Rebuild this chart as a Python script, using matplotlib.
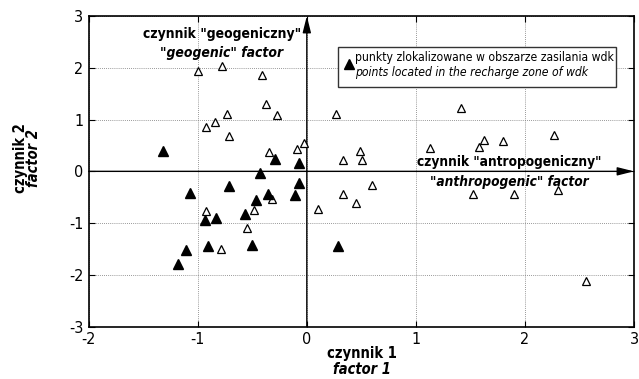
import matplotlib
matplotlib.use("Agg")
import matplotlib.pyplot as plt
from matplotlib.patches import Rectangle
from matplotlib.lines import Line2D

plt.rcParams['font.family'] = ['DejaVu Sans']
plt.rcParams['font.stretch'] = 'condensed'

# factor scores: points in the recharge zone (filled)
rech_x = [-1.32, -0.29, -0.07, -0.43, -0.07, -0.71, -1.07, -0.36, -0.11, -0.47,
          -0.57, -0.83, -0.93, -0.91, -0.50, -1.11, -1.18, 0.29]
rech_y = [0.40, 0.24, 0.17, -0.03, -0.22, -0.28, -0.41, -0.44, -0.45, -0.55,
          -0.82, -0.90, -0.94, -1.45, -1.42, -1.52, -1.78, -1.44]
# other points (open)
oth_x = [-1.00, -0.78, -0.41, -0.37, -0.27, -0.73, -0.84, -0.92, -0.71, -0.35,
         -0.09, -0.03, -0.32, -0.48, -0.92, -0.55, -0.79, 0.10, 0.27, 1.41,
         0.49, 0.33, 0.51, 1.13, 1.62, 1.58, 1.80, 2.27, 0.60, 0.33, 0.45,
         1.52, 1.90, 2.30, 2.56]
oth_y = [1.94, 2.03, 1.86, 1.31, 1.09, 1.11, 0.95, 0.86, 0.68, 0.37,
         0.43, 0.55, -0.54, -0.75, -0.77, -1.10, -1.49, -0.73, 1.10, 1.22,
         0.39, 0.21, 0.21, 0.46, 0.60, 0.47, 0.59, 0.70, -0.26, -0.44, -0.61,
         -0.44, -0.44, -0.36, -2.12]

ticks = [-3, -2, -1, 0, 1, 2, 3]
xticks = [-2, -1, 0, 1, 2, 3]

fig = plt.figure(figsize=(6.39, 3.79), dpi=100)
ax = fig.add_axes([0.1388, 0.138, 0.8534, 0.8198])
ax.set_xlim(-2, 3)
ax.set_ylim(-3, 3)
ax.set_xticks(xticks)
ax.set_yticks(ticks)
ax.set_xticklabels([str(t) for t in xticks])
ax.set_yticklabels([str(t) for t in ticks])
ax.tick_params(direction='in', length=4, width=0.8, labelsize=11.5, top=True, right=True,
               pad=4)
for s in ax.spines.values():
    s.set_linewidth(1.2)
ax.grid(True, linestyle=(0, (1, 1.5)), color='#777777', linewidth=0.6)

# axes arrows
arrow_style = '-|>,head_length=1.0,head_width=0.25'
ax.annotate('', xy=(0, 3), xytext=(0, -3),
            arrowprops=dict(arrowstyle=arrow_style, lw=1,
                            color='black', mutation_scale=10, shrinkA=0, shrinkB=0))
ax.annotate('', xy=(3, 0), xytext=(-2, 0),
            arrowprops=dict(arrowstyle=arrow_style, lw=1,
                            color='black', mutation_scale=10, shrinkA=0, shrinkB=0))

ax.plot(oth_x, oth_y, linestyle='none', marker='^', markersize=5.5,
        markerfacecolor='white', markeredgecolor='black', markeredgewidth=0.9, zorder=4)
ax.plot(rech_x, rech_y, linestyle='none', marker='^', markersize=7.5,
        markerfacecolor='black', markeredgecolor='black', zorder=5)

# factor annotations
ax.text(-0.78, 2.66, 'czynnik "geogeniczny"', ha='center', va='center',
        fontsize=10, fontweight='bold')
ax.text(-0.78, 2.28, '"geogenic" factor', ha='center', va='center',
        fontsize=10, fontweight='bold', style='italic')
ax.text(1.86, 0.18, 'czynnik "antropogeniczny"', ha='center', va='center',
        fontsize=9.8, fontweight='bold', zorder=6)
ax.text(1.86, -0.21, '"anthropogenic" factor', ha='center', va='center',
        fontsize=9.8, fontweight='bold', style='italic', zorder=6)

# legend box
ax.add_patch(Rectangle((0.4566, 0.7725), 0.5104, 0.1285, transform=ax.transAxes,
                       facecolor='white', edgecolor='#333333', lw=1, zorder=6))
ax.add_line(Line2D([0.477], [0.845], transform=ax.transAxes, marker='^', markersize=7,
                   color='black', linestyle='none', zorder=7))
ax.text(0.489, 0.866, 'punkty zlokalizowane w obszarze zasilania wdk',
        transform=ax.transAxes, ha='left', va='center', fontsize=8.7, zorder=7)
ax.text(0.489, 0.818, 'points located in the recharge zone of wdk',
        transform=ax.transAxes, ha='left', va='center', fontsize=8.7, style='italic',
        zorder=7)

# axis labels
fig.text(0.566, 0.066, 'czynnik 1', ha='center', va='center', fontsize=10.5,
         fontweight='bold')
fig.text(0.566, 0.024, 'factor 1', ha='center', va='center', fontsize=10.5,
         fontweight='bold', style='italic')
fig.text(0.032, 0.583, 'czynnik 2', ha='center', va='center', fontsize=10.5,
         fontweight='bold', rotation=90)
fig.text(0.053, 0.583, 'factor 2', ha='center', va='center', fontsize=10.5,
         fontweight='bold', style='italic', rotation=90)

fig.savefig('out.png', dpi=100)
